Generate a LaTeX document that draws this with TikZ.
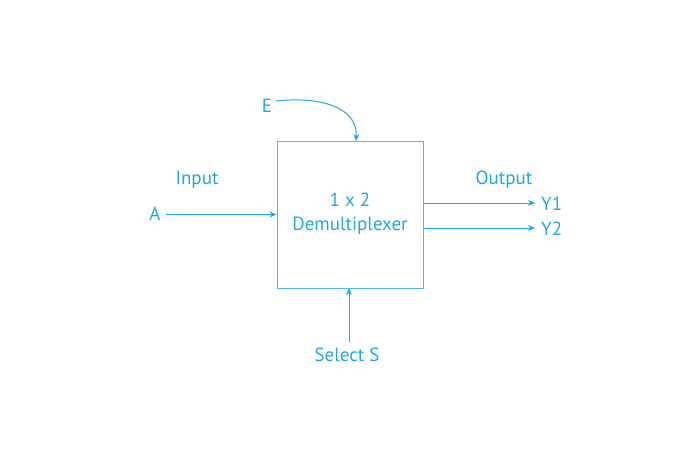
\documentclass[tikz,border=0pt]{standalone}
\usepackage{fontspec}
\setmainfont{PT Sans}
\usetikzlibrary{arrows.meta}
\definecolor{cy}{HTML}{1AAAE4}
\definecolor{cyb}{HTML}{4CBDEB}
\begin{document}
\begin{tikzpicture}[x=1pt,y=-1pt,
  lbl/.style={text=cy,font=\fontsize{19}{24}\selectfont,inner sep=0pt},
  conn/.style={draw=cy,line width=1pt,-{Stealth[length=7pt,width=6pt]}}]
\useasboundingbox (0,0) rectangle (696,469);
\node[draw=cyb,line width=1pt,minimum width=146pt,minimum height=147pt,inner sep=0pt] (box) at (350,214.5) {};
\node[lbl,align=center] (title) at (350,214) {1 x 2\\Demultiplexer};
\node[lbl] (A) at (155,214) {A};
\node[lbl] (inp) at (197,180) {Input};
\node[lbl] (E) at (267,106) {E};
\node[lbl] (out) at (504,180) {Output};
\node[lbl,anchor=west] (Y1) at (541,204) {Y1};
\node[lbl,anchor=west] (Y2) at (541,229) {Y2};
\node[lbl] (sel) at (347,355) {Select S};
\coordinate (aS) at (166,214.5);
\coordinate (eS) at (276,101);
\coordinate (eT) at (356,141);
\coordinate (y1s) at (423,203);
\coordinate (y1e) at (535,203);
\coordinate (y2s) at (423,228);
\coordinate (y2e) at (535,228);
\coordinate (sS) at (349,342);
\coordinate (sT) at (349,288);
\draw[conn] (aS) -- (box.west |- aS);
\draw[conn] (eS) .. controls (322,96) and (358,108) .. (eT);
\draw[conn] (y1s) -- (y1e);
\draw[conn] (y2s) -- (y2e);
\draw[conn] (sS) -- (sT);
\end{tikzpicture}
\end{document}
